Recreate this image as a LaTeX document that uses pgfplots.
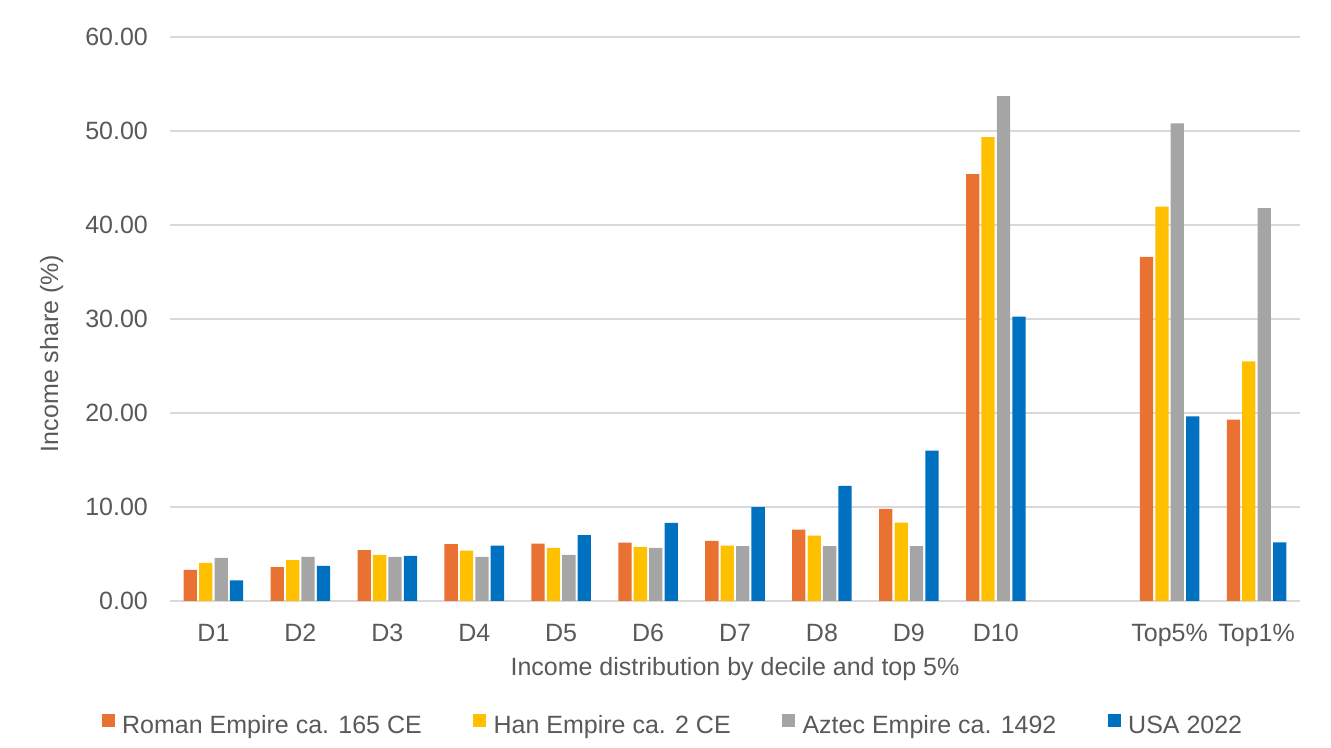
\documentclass[border=0pt]{standalone}
\usepackage{pgfplots}
\pgfplotsset{compat=1.18}
\usepackage{fontspec}
\setmainfont{Liberation Sans}
\definecolor{romanc}{HTML}{E97132}
\definecolor{hanc}{HTML}{FFC000}
\definecolor{aztecc}{HTML}{A5A5A5}
\definecolor{usac}{HTML}{0070C0}
\definecolor{textgray}{HTML}{595959}
\definecolor{gridgray}{HTML}{D9D9D9}
\newcommand{\chartfont}{\fontsize{12.5bp}{15bp}\selectfont}
\pgfplotsset{sqlegend/.style={legend image code/.code={\fill[##1] (0bp,-0.2bp) rectangle (6.3bp,6.1bp);}}}
\begin{document}
\begin{tikzpicture}[font=\chartfont]
\useasboundingbox (0,0) rectangle (665.5bp,374bp);
\begin{axis}[
  at={(85bp,73.5bp)}, anchor=south west, scale only axis,
  width=565bp, height=282bp,
  ybar, bar width=0.153,
  xmin=-0.5, xmax=12.5, ymin=0, ymax=60,
  xtick={0,1,2,3,4,5,6,7,8,9,11,12},
  xticklabels={D1,D2,D3,D4,D5,D6,D7,D8,D9,D10,Top5\%,Top1\%},
  ytick={0,10,20,30,40,50,60},
  yticklabel={\pgfmathprintnumber[fixed,fixed zerofill,precision=2,assume math mode=true]{\tick}},
  ymajorgrids, grid style={gridgray, line width=0.75bp},
  axis x line*=bottom, axis y line*=left,
  x axis line style={gridgray, line width=0.75bp, -},
  y axis line style={draw=none},
  tick style={draw=none},
  major tick length=0pt,
  yticklabel style={anchor=east, inner sep=0pt, xshift=-10.85bp, text=textgray, font=\chartfont},
  xticklabel style={anchor=base, inner sep=0pt, yshift=-20bp, text=textgray, font=\chartfont},
  xlabel={Income distribution by decile and top 5\%},
  xlabel style={at={(axis description cs:0.5,-0.1324)}, anchor=base, inner sep=0pt, text=textgray, font=\chartfont},
  ylabel={Income share (\%)},
  ylabel style={at={(axis description cs:-0.0991,0.439)}, anchor=base, inner sep=0pt, text=textgray, font=\chartfont},
  legend columns=4,
  legend style={at={(axis description cs:-0.0602,-0.2207)}, anchor=west, draw=none, fill=none,
    inner sep=0pt, outer sep=0pt, font=\chartfont, text=textgray, nodes={inner sep=0pt},
    /tikz/every odd column/.append style={column sep=3.8bp},
    /tikz/every even column/.append style={column sep=25.8bp}},
]
\addplot[fill=romanc, draw=none, bar shift=-0.266, sqlegend] coordinates {
  (0,3.3) (1,3.6) (2,5.4) (3,6.05) (4,6.1) (5,6.2) (6,6.4) (7,7.6) (8,9.8) (9,45.4) (11,36.6) (12,19.3)};
\addlegendentry{Roman Empire ca. 165 CE}
\addplot[fill=hanc, draw=none, bar shift=-0.0886, sqlegend] coordinates {
  (0,4.05) (1,4.35) (2,4.9) (3,5.35) (4,5.65) (5,5.75) (6,5.9) (7,6.95) (8,8.35) (9,49.35) (11,41.95) (12,25.5)};
\addlegendentry{Han Empire ca. 2 CE}
\addplot[fill=aztecc, draw=none, bar shift=0.0886, sqlegend] coordinates {
  (0,4.6) (1,4.7) (2,4.7) (3,4.7) (4,4.9) (5,5.65) (6,5.85) (7,5.85) (8,5.85) (9,53.7) (11,50.8) (12,41.8)};
\addlegendentry{Aztec Empire ca. 1492}
\addplot[fill=usac, draw=none, bar shift=0.266, sqlegend] coordinates {
  (0,2.2) (1,3.75) (2,4.8) (3,5.9) (4,7.0) (5,8.3) (6,10.0) (7,12.25) (8,16.0) (9,30.25) (11,19.65) (12,6.25)};
\addlegendentry{USA 2022}
\end{axis}
\end{tikzpicture}
\end{document}
